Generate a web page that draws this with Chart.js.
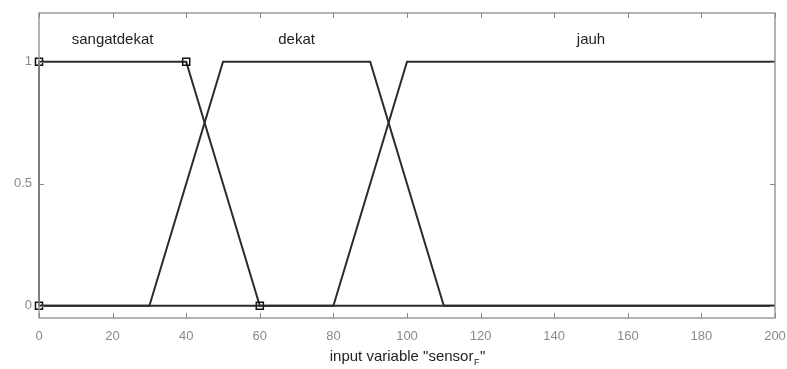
<!DOCTYPE html>
<html>
<head>
<meta charset="utf-8">
<script src="https://cdn.jsdelivr.net/npm/chart.js@4"></script>
<style>
html,body{margin:0;padding:0;background:#fff;}
#wrap{width:787px;height:369px;position:relative;}
</style>
</head>
<body>
<div id="wrap"><canvas id="c" width="787" height="369"></canvas></div>
<script>
// ---- data ----
const mfNames = ["sangatdekat", "dekat", "jauh"];
const sangatdekatX = [0, 0, 40, 60, 200];
const sangatdekatY = [0, 1, 1, 0, 0];
const dekatX = [0, 30, 50, 90, 110, 200];
const dekatY = [0, 0, 1, 1, 0, 0];
const jauhX = [0, 80, 100, 200];
const jauhY = [0, 0, 1, 1];
const labelX = [20, 70, 150];
const labelY = [1.09, 1.09, 1.09];
const xTicks = [0, 20, 40, 60, 80, 100, 120, 140, 160, 180, 200];
const yTicks = [0, 0.5, 1];
const xTitle = 'input variable "sensor';
const xTitleSub = 'F';
const xTitleEnd = '"';

const toPts = (xs, ys) => xs.map((x, i) => ({x: x, y: ys[i]}));
const lineCol = '#2b2b2b';
const fontFam = '"Liberation Sans", Arial, sans-serif';

const boxPlugin = {
  id: 'box',
  afterDatasetsDraw(chart) {
    const {ctx, chartArea: a, scales: {x, y}} = chart;
    ctx.save();
    ctx.strokeStyle = '#9a9a9a';
    ctx.lineWidth = 1.5;
    ctx.strokeRect(a.left, a.top, a.right - a.left, a.bottom - a.top);
    ctx.lineWidth = 1;
    ctx.strokeStyle = '#888';
    xTicks.forEach(v => {
      const px = Math.round(x.getPixelForValue(v)) + 0.5;
      ctx.beginPath();
      ctx.moveTo(px, a.bottom); ctx.lineTo(px, a.bottom - 5);
      ctx.moveTo(px, a.top); ctx.lineTo(px, a.top + 5);
      ctx.stroke();
    });
    yTicks.forEach(v => {
      const py = Math.round(y.getPixelForValue(v)) + 0.5;
      ctx.beginPath();
      ctx.moveTo(a.left, py); ctx.lineTo(a.left + 5, py);
      ctx.moveTo(a.right, py); ctx.lineTo(a.right - 5, py);
      ctx.stroke();
    });
    // MF labels
    ctx.fillStyle = '#222';
    ctx.font = '15px ' + fontFam;
    ctx.textAlign = 'center';
    ctx.textBaseline = 'middle';
    mfNames.forEach((n, i) => {
      ctx.fillText(n, x.getPixelForValue(labelX[i]), y.getPixelForValue(labelY[i]));
    });
    // x title with subscript
    ctx.font = '15px ' + fontFam;
    ctx.textAlign = 'left';
    ctx.textBaseline = 'alphabetic';
    const w1 = ctx.measureText(xTitle).width;
    ctx.font = '9px ' + fontFam;
    const w2 = ctx.measureText(xTitleSub).width;
    ctx.font = '15px ' + fontFam;
    const w3 = ctx.measureText(xTitleEnd).width;
    const total = w1 + w2 + w3;
    const cx = (a.left + a.right) / 2;
    let sx = cx - total / 2;
    const by = 361;
    ctx.fillText(xTitle, sx, by);
    ctx.font = '9px ' + fontFam;
    ctx.fillText(xTitleSub, sx + w1 + 0.5, by + 4);
    ctx.font = '15px ' + fontFam;
    ctx.fillText(xTitleEnd, sx + w1 + w2 + 1, by);
    ctx.restore();
  }
};

const ds = (xs, ys, radii) => ({
  data: toPts(xs, ys),
  borderColor: lineCol,
  borderWidth: 2,
  pointStyle: 'rect',
  pointRadius: radii,
  pointBorderColor: '#111',
  pointBackgroundColor: 'rgba(255,255,255,0)',
  pointBorderWidth: 1.5,
  tension: 0,
  clip: 6
});

new Chart(document.getElementById('c'), {
  type: 'line',
  data: {
    datasets: [
      ds(dekatX, dekatY, 0),
      ds(jauhX, jauhY, 0),
      ds(sangatdekatX, sangatdekatY, [5, 5, 5, 5, 0])
    ]
  },
  options: {
    responsive: false,
    animation: false,
    layout: {padding: {top: 13, right: 12, left: 0, bottom: 0}},
    plugins: {legend: {display: false}, tooltip: {enabled: false}},
    scales: {
      x: {
        type: 'linear', min: 0, max: 200,
        afterBuildTicks: s => { s.ticks = xTicks.map(v => ({value: v})); },
        afterFit: s => { s.height = 51; s.paddingLeft = 0; s.paddingRight = 0; },
        grid: {display: false, drawTicks: false},
        border: {display: false},
        ticks: {color: '#8a8a8a', font: {size: 13, family: fontFam}, padding: 11, maxRotation: 0}
      },
      y: {
        type: 'linear', min: -0.05, max: 1.2,
        afterBuildTicks: s => { s.ticks = yTicks.map(v => ({value: v})); },
        afterFit: s => { s.width = 39; s.paddingTop = 0; s.paddingBottom = 0; },
        grid: {display: false, drawTicks: false},
        border: {display: false},
        ticks: {color: '#8a8a8a', font: {size: 13, family: fontFam}, padding: 7,
                callback: v => String(v)}
      }
    }
  },
  plugins: [boxPlugin]
});
</script>
</body>
</html>
